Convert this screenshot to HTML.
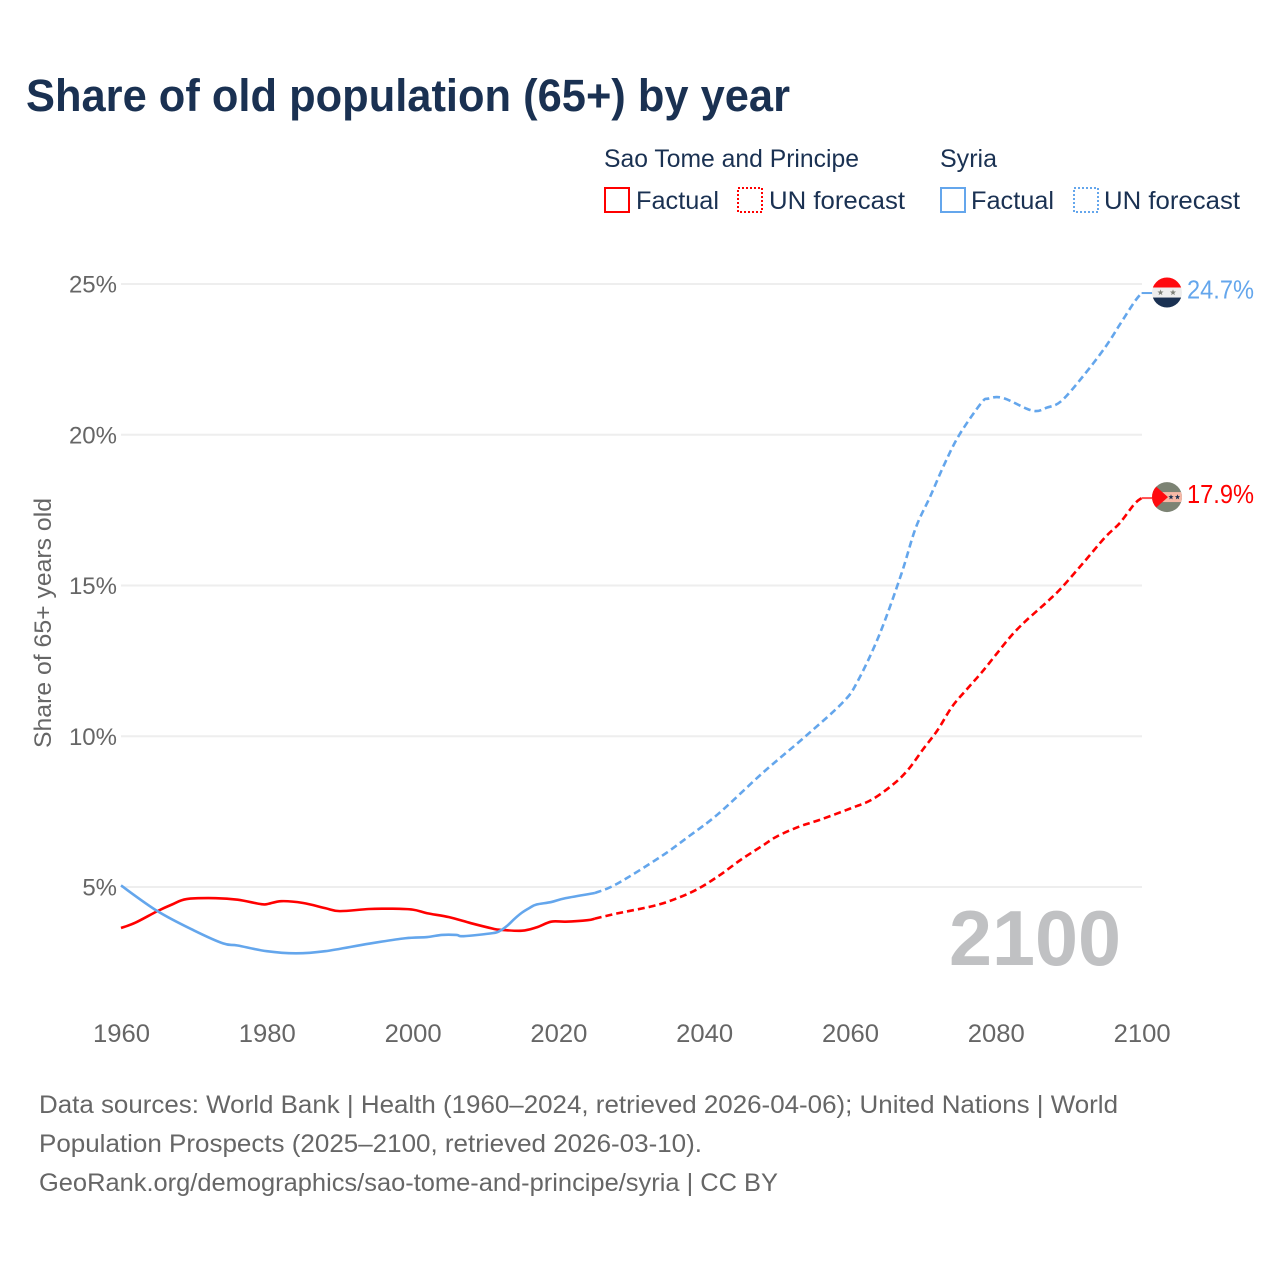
<!DOCTYPE html>
<html lang="en">
<head>
<meta charset="utf-8">
<title>Share of old population (65+) by year</title>
<style>
html,body{margin:0;padding:0;background:#fff;width:1280px;height:1280px;overflow:hidden}
svg{display:block}
text{font-family:"Liberation Sans",sans-serif}
</style>
</head>
<body>
<svg id="chart" width="1280" height="1280" viewBox="0 0 1280 1280" xmlns="http://www.w3.org/2000/svg">
  <defs>
    <clipPath id="clip-syria"><circle id="clip-syria-c" cx="1167" cy="292" r="15"/></clipPath>
    <clipPath id="clip-stp"><circle id="clip-stp-c" cx="1167" cy="497" r="15"/></clipPath>
  </defs>
  <text x="26" y="111" font-size="45" font-weight="700" fill="#1a3152" textLength="764" lengthAdjust="spacingAndGlyphs">Share of old population (65+) by year</text>

  <g fill="#1a3152" font-size="25">
    <text x="604" y="167" textLength="255" lengthAdjust="spacingAndGlyphs">Sao Tome and Principe</text>
    <text x="940" y="167" textLength="57" lengthAdjust="spacingAndGlyphs">Syria</text>
    <rect x="605" y="188" width="24" height="24" fill="none" stroke="#ff0000" stroke-width="2"/>
    <text x="636" y="209" textLength="83" lengthAdjust="spacingAndGlyphs">Factual</text>
    <rect x="738" y="188" width="24" height="24" fill="none" stroke="#ff0000" stroke-width="2" stroke-dasharray="2 2"/>
    <text x="769" y="209" textLength="136" lengthAdjust="spacingAndGlyphs">UN forecast</text>
    <rect x="941" y="188" width="24" height="24" fill="none" stroke="#64a6ec" stroke-width="2"/>
    <text x="971" y="209" textLength="83" lengthAdjust="spacingAndGlyphs">Factual</text>
    <rect x="1074" y="188" width="24" height="24" fill="none" stroke="#64a6ec" stroke-width="2" stroke-dasharray="2 2"/>
    <text x="1104" y="209" textLength="136" lengthAdjust="spacingAndGlyphs">UN forecast</text>
  </g>

  <g id="grid"></g>
  <g id="yticks"></g>
  <g id="xticks"></g>
  <text transform="translate(51,748) rotate(-90)" font-size="24" fill="#666666" textLength="250" lengthAdjust="spacingAndGlyphs">Share of 65+ years old</text>
  <text x="949" y="965" font-size="78" font-weight="700" fill="#c0c1c3" textLength="172" lengthAdjust="spacingAndGlyphs">2100</text>

  <g id="series"></g>

  <g id="flag-syria" clip-path="url(#clip-syria)"></g>
  <g id="flag-stp" clip-path="url(#clip-stp)"></g>
  <g id="endlabels"></g>

  <g fill="#666666" font-size="25">
    <text x="39" y="1113" textLength="1079" lengthAdjust="spacingAndGlyphs">Data sources: World Bank | Health (1960–2024, retrieved 2026-04-06); United Nations | World</text>
    <text x="39" y="1152" textLength="663" lengthAdjust="spacingAndGlyphs">Population Prospects (2025–2100, retrieved 2026-03-10).</text>
    <text x="39" y="1191" textLength="739" lengthAdjust="spacingAndGlyphs">GeoRank.org/demographics/sao-tome-and-principe/syria | CC BY</text>
  </g>
</svg>
<script>
var yTickValues = [5, 10, 15, 20, 25];
var yTickLabels = ["5%", "10%", "15%", "20%", "25%"];
var xTickYears = [1960, 1980, 2000, 2020, 2040, 2060, 2080, 2100];

var stpFactualYears = [1960,1962,1965,1967,1969,1973,1976,1979,1980,1982,1985,1988,1990,1994,1997,2000,2002,2005,2008,2011,2012,2015,2017,2019,2021,2024,2025];
var stpFactualValues = [3.64,3.82,4.2,4.42,4.6,4.63,4.58,4.44,4.43,4.53,4.47,4.3,4.2,4.27,4.28,4.25,4.13,4.0,3.8,3.62,3.58,3.55,3.66,3.85,3.85,3.9,3.95];
var stpForecastYears = [2025,2028,2033,2036,2039,2042,2045,2048,2050,2053,2056,2060,2063,2066,2068,2070,2072,2074,2076,2078,2080,2082,2084,2087,2089,2092,2095,2097,2099,2100];
var stpForecastValues = [3.95,4.12,4.37,4.6,4.92,5.37,5.9,6.37,6.68,7.0,7.24,7.6,7.9,8.42,8.9,9.56,10.2,10.98,11.55,12.1,12.7,13.3,13.8,14.45,14.92,15.75,16.6,17.07,17.7,17.9];

var syriaFactualYears = [1960,1965,1970,1974,1976,1980,1984,1988,1994,1999,2002,2004,2006,2007,2011,2012,2013,2014,2015,2016,2017,2019,2021,2025];
var syriaFactualValues = [5.05,4.2,3.56,3.13,3.06,2.87,2.8,2.87,3.12,3.3,3.34,3.41,3.41,3.37,3.47,3.55,3.72,3.95,4.15,4.3,4.42,4.5,4.63,4.8];
var syriaForecastYears = [2025,2028,2034,2038,2042,2048,2054,2059,2061,2064,2067,2069,2071,2073,2075,2078,2079,2081,2085,2087,2089,2092,2095,2097,2099,2100];
var syriaForecastValues = [4.8,5.1,6.0,6.7,7.44,8.78,10.02,11.12,11.8,13.35,15.35,16.9,17.95,19.05,20.0,21.05,21.2,21.22,20.8,20.9,21.12,21.95,22.9,23.65,24.4,24.7];

var NS = "http://www.w3.org/2000/svg";
function xScale(year){ return 121 + (year - 1960) * 7.29; }
function yScale(v){ return 887 - (v - 5) * 30.15; }
function mk(parent, tag, attrs, txt){
  var e = document.createElementNS(NS, tag);
  for (var k in attrs) e.setAttribute(k, attrs[k]);
  if (txt !== undefined) e.textContent = txt;
  parent.appendChild(e);
  return e;
}
function smoothPath(years, values){
  var p = years.map(function(yr, i){ return [xScale(yr), yScale(values[i])]; });
  var d = "M" + p[0][0].toFixed(2) + " " + p[0][1].toFixed(2);
  for (var i = 0; i < p.length - 1; i++){
    var p0 = p[Math.max(0, i - 1)], p1 = p[i], p2 = p[i + 1], p3 = p[Math.min(p.length - 1, i + 2)];
    var c1x = p1[0] + (p2[0] - p0[0]) / 6, c1y = p1[1] + (p2[1] - p0[1]) / 6;
    var c2x = p2[0] - (p3[0] - p1[0]) / 6, c2y = p2[1] - (p3[1] - p1[1]) / 6;
    d += "C" + c1x.toFixed(2) + " " + c1y.toFixed(2) + " " + c2x.toFixed(2) + " " + c2y.toFixed(2) + " " + p2[0].toFixed(2) + " " + p2[1].toFixed(2);
  }
  return d;
}
function starPoints(cx, cy, r){
  var pts = [];
  for (var i = 0; i < 10; i++){
    var a = -Math.PI / 2 + i * Math.PI / 5, rr = i % 2 ? r * 0.42 : r;
    pts.push((cx + rr * Math.cos(a)).toFixed(2) + "," + (cy + rr * Math.sin(a)).toFixed(2));
  }
  return pts.join(" ");
}

var gGrid = document.getElementById("grid");
var gY = document.getElementById("yticks");
yTickValues.forEach(function(v, i){
  var ln = mk(gGrid, "line", {x1: 121, x2: 1142, y1: yScale(v), y2: yScale(v), stroke: "#eeeeee", "stroke-width": 2});
  
  
  var t = mk(gY, "text", {x: 117, y: yScale(v) + 8.5, "text-anchor": "end", "font-size": 24, fill: "#666666"}, yTickLabels[i]);
  
  
});

var gX = document.getElementById("xticks");
xTickYears.forEach(function(yr){
  var t = mk(gX, "text", {x: xScale(yr) + 0.5, y: 1042, "text-anchor": "middle", "font-size": 25, fill: "#666666", textLength: 57, lengthAdjust: "spacingAndGlyphs"}, String(yr));
  
  
});

var gS = document.getElementById("series");
var lineStyle = {fill: "none", "stroke-width": 2.6, "stroke-linejoin": "round"};
function drawLine(years, values, color, dashed){
  var a = {d: smoothPath(years, values), stroke: color};
  for (var k in lineStyle) a[k] = lineStyle[k];
  if (dashed) a["stroke-dasharray"] = "7 4";
  return mk(gS, "path", a);
}
var l1 = drawLine(syriaForecastYears, syriaForecastValues, "#64a6ec", true);


var l2 = drawLine(stpForecastYears, stpForecastValues, "#ff0000", true);


var l3 = drawLine(stpFactualYears, stpFactualValues, "#ff0000", false);


var l4 = drawLine(syriaFactualYears, syriaFactualValues, "#64a6ec", false);



var syriaLast = syriaForecastValues[syriaForecastValues.length - 1];
var stpLast = stpForecastValues[stpForecastValues.length - 1];
var syY = yScale(syriaLast), stY = yScale(stpLast);

var s1 = mk(gS, "line", {x1: xScale(2100), x2: 1153, y1: syY, y2: syY, stroke: "#64a6ec", "stroke-width": 2});


var s2 = mk(gS, "line", {x1: xScale(2100), x2: 1153, y1: stY, y2: stY, stroke: "#ff5050", "stroke-width": 2});



/* flags follow the last value of each series */
var cSy = syY - 0.5, cSt = stY - 1;
document.getElementById("clip-syria-c").setAttribute("cy", cSy);
document.getElementById("clip-stp-c").setAttribute("cy", cSt);
var fSy = document.getElementById("flag-syria");
mk(fSy, "rect", {x: 1150, y: cSy - 16, width: 34, height: 11, fill: "#ff0a0f"});
mk(fSy, "rect", {x: 1150, y: cSy - 5, width: 34, height: 10, fill: "#eeeeee"});
mk(fSy, "rect", {x: 1150, y: cSy + 5, width: 34, height: 11, fill: "#1a3152"});
mk(fSy, "polygon", {points: starPoints(1160.5, cSy, 3.2), fill: "#7d8078"});
mk(fSy, "polygon", {points: starPoints(1173, cSy, 3.2), fill: "#7d8078"});
var fSt = document.getElementById("flag-stp");
mk(fSt, "rect", {x: 1150, y: cSt - 16, width: 34, height: 32, fill: "#7c8374"});
mk(fSt, "rect", {x: 1150, y: cSt - 5, width: 34, height: 10, fill: "#f6b8a6"});
mk(fSt, "polygon", {points: "1150," + (cSt - 16) + " 1168," + cSt + " 1150," + (cSt + 16), fill: "#ff0a0f"});
mk(fSt, "polygon", {points: starPoints(1171, cSt, 2.8), fill: "#1a3152"});
mk(fSt, "polygon", {points: starPoints(1177.5, cSt, 2.8), fill: "#1a3152"});

var gE = document.getElementById("endlabels");
var e1 = mk(gE, "text", {x: 1187, y: syY + 5.5, "font-size": 26, fill: "#64a6ec", textLength: 67, lengthAdjust: "spacingAndGlyphs"}, syriaLast.toFixed(1) + "%");


var e2 = mk(gE, "text", {x: 1187, y: stY + 5, "font-size": 26, fill: "#ff0000", textLength: 67, lengthAdjust: "spacingAndGlyphs"}, stpLast.toFixed(1) + "%");


</script>
</body>
</html>
